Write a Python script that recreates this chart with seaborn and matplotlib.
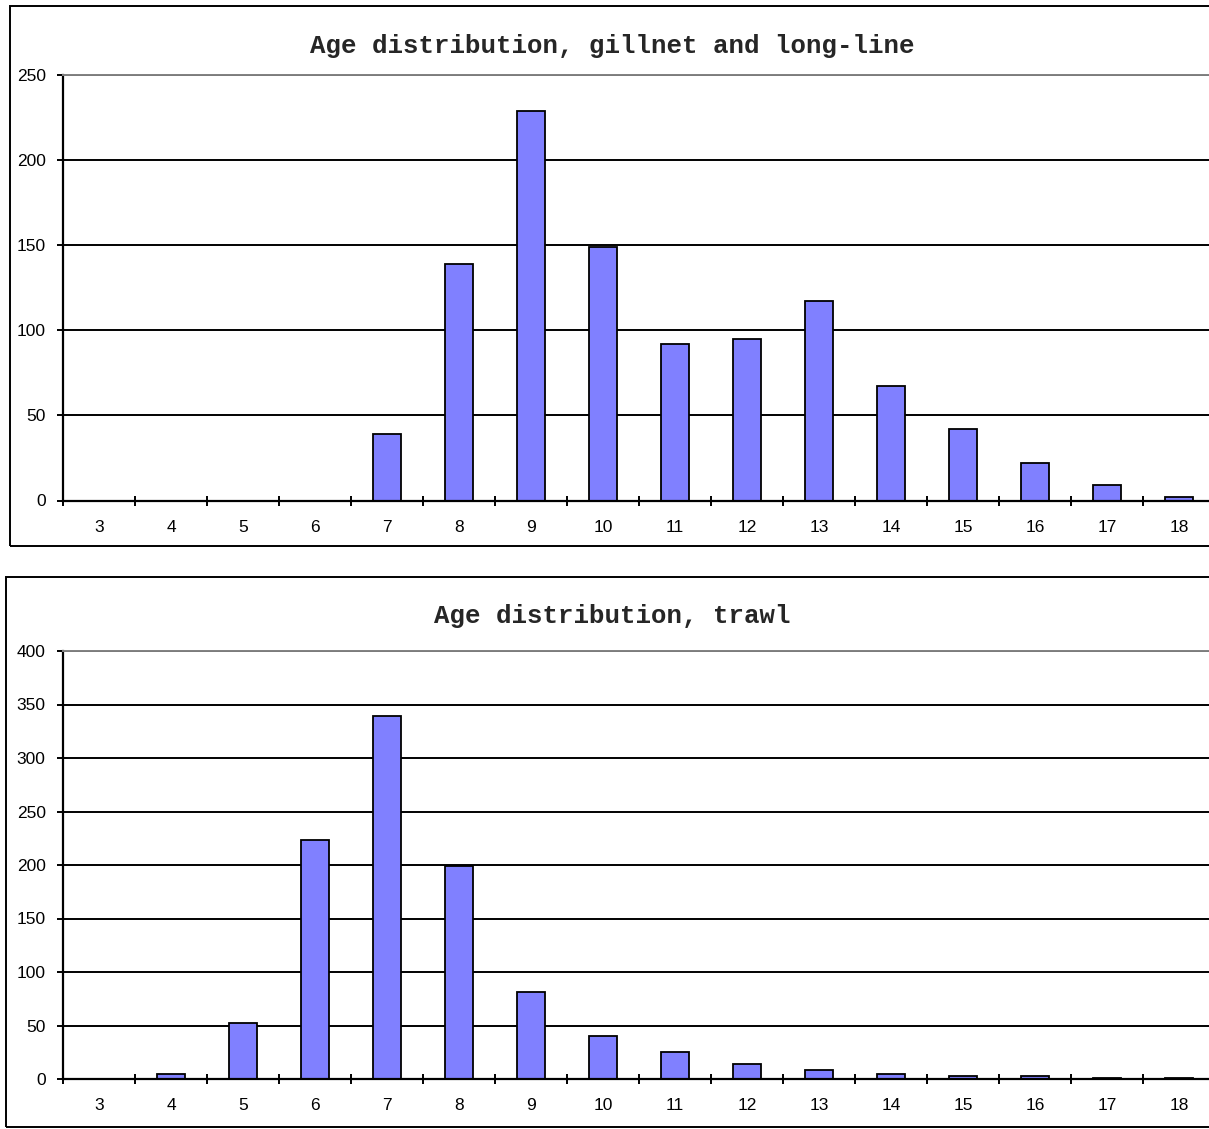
import numpy as np
import pandas as pd
import matplotlib
matplotlib.use("Agg")
import matplotlib.pyplot as plt
from matplotlib.patches import Rectangle
import seaborn as sns

# Dados (idade x número de peixes)
ages = [3, 4, 5, 6, 7, 8, 9, 10, 11, 12, 13, 14, 15, 16, 17, 18]
gillnet_longline = [0, 0, 0, 0, 39, 139, 229, 149, 92, 95, 117, 67, 42, 22, 9, 2]
trawl = [0, 5, 52, 223, 339, 199, 81, 40, 25, 14, 8, 5, 3, 3, 1, 1]

title_gillnet = "Age distribution, gillnet and long-line"
title_trawl = "Age distribution, trawl"

sns.set_theme(style="white")
plt.rcParams["font.family"] = ["Liberation Sans", "DejaVu Sans"]

BAR_COLOR = "#8080FF"
W, H = 1209, 1129


def fx(px):
    return px / W


def fy(py):
    return 1 - py / H


def draw_panel(fig, rect, values, ymax, title, title_y, frame):
    # moldura externa do gráfico (estilo Excel)
    fx0, fy_top, fy_bot = frame
    fig.patches.append(Rectangle((fx(fx0), fy(fy_bot)), 1.2, fy(fy_top) - fy(fy_bot),
                                 transform=fig.transFigure, fill=False,
                                 edgecolor="black", linewidth=1.4, zorder=0))

    ax = fig.add_axes(rect)
    df = pd.DataFrame({"Idade": [str(a) for a in ages], "Total": values})
    sns.barplot(data=df, x="Idade", y="Total", color=BAR_COLOR, saturation=1,
                edgecolor="black", linewidth=1.3, width=0.4, ax=ax)

    ax.set_xlim(-0.5, len(ages) - 0.5)
    ax.set_ylim(0, ymax)
    ax.set_yticks(np.arange(0, ymax + 1, 50))
    ax.set_xlabel("")
    ax.set_ylabel("")

    ax.set_axisbelow(True)
    ax.yaxis.grid(True, color="black", linewidth=1.4)
    ax.xaxis.grid(False)

    for side in ["left", "bottom"]:
        ax.spines[side].set_color("black")
        ax.spines[side].set_linewidth(1.6)
    ax.spines["top"].set_color("#808080")
    ax.spines["top"].set_linewidth(1.4)
    ax.spines["right"].set_visible(False)

    ax.set_xticks(np.arange(-0.5, len(ages), 1), minor=True)
    ax.tick_params(axis="x", which="major", length=0, pad=14, labelsize=12.5, colors="black")
    ax.tick_params(axis="x", which="minor", direction="inout", length=7, width=1.4,
                   color="black", bottom=True)
    ax.tick_params(axis="y", which="major", direction="out", length=4.5, width=1.4,
                   color="black", pad=8, labelsize=12.5, labelcolor="black", left=True)

    fig.text(fx(612), fy(title_y), title, ha="center", va="center",
             fontsize=18.5, fontweight="bold", family=["Liberation Mono", "DejaVu Sans Mono"])
    return ax


fig = plt.figure(figsize=(W / 100, H / 100), dpi=100)
fig.patch.set_facecolor("white")

draw_panel(fig, [fx(63), fy(500.5), 1152 / W, 425.5 / H], gillnet_longline, 250,
           title_gillnet, 46.5, (10, 6, 546))
draw_panel(fig, [fx(63), fy(1079), 1152 / W, 428 / H], trawl, 400,
           title_trawl, 616, (6, 577, 1127))

fig.savefig("out.png", dpi=100)
plt.close(fig)
